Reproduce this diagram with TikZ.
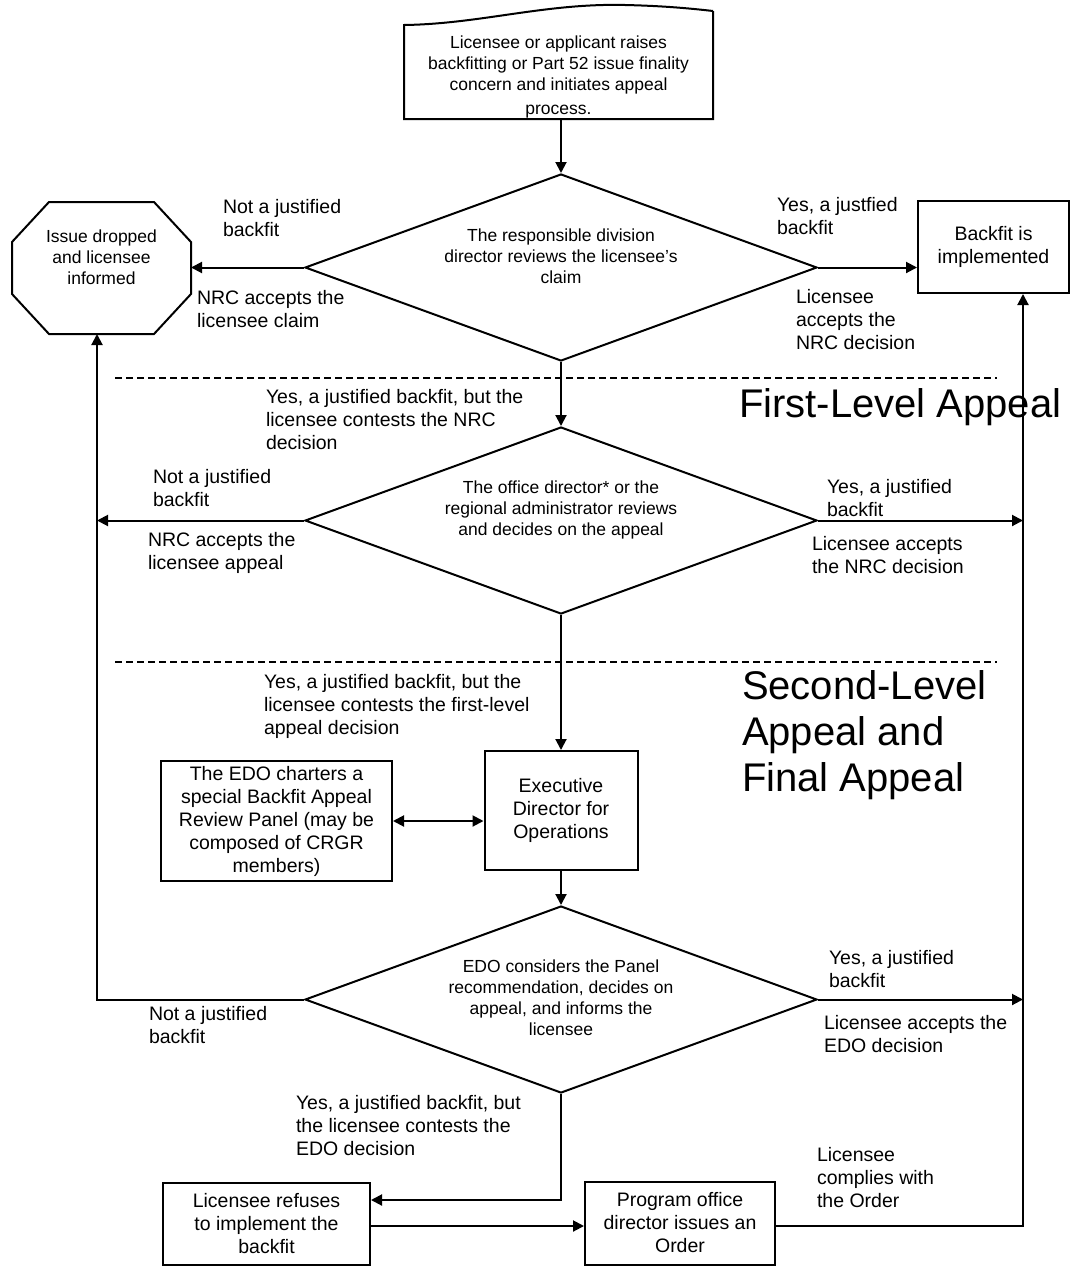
\documentclass[tikz,border=0pt]{standalone}
\usepackage{fontspec}
\setmainfont{Liberation Sans}
\usetikzlibrary{arrows.meta,shapes.geometric,calc}
\newcommand\fntlab{\fontsize{19.5}{23}\selectfont}
\newcommand\fntdia{\fontsize{17.5}{21}\selectfont}
\newcommand\fntbx{\fontsize{19.5}{23}\selectfont}
\newcommand\fntbig{\fontsize{40}{46}\selectfont}
\begin{document}
\begin{tikzpicture}[x=1pt,y=-1pt,
  line width=2pt,
  arr/.style={-{Triangle[length=11pt,width=11pt]}},
  dblarr/.style={{Triangle[length=11pt,width=11pt]}-{Triangle[length=11pt,width=11pt]}},
  dia/.style={shape=diamond,draw,aspect=2.7,minimum width=512pt,minimum height=187pt,inner sep=0pt},
  diatext/.style={inner sep=0pt,align=center,font=\fntdia},
  bx/.style={draw,rectangle,inner sep=0pt,align=center,font=\fntbx},
  lab/.style={anchor=west,inner sep=0pt,align=left,font=\fntlab},
  big/.style={anchor=west,inner sep=0pt,align=left,font=\fntbig},
  sep/.style={line width=1.3pt,dash pattern=on 7pt off 4pt}]
\useasboundingbox (0,0) rectangle (1070,1266);
\fill[white] (0,0) rectangle (1070,1266);

% start (document shape)
\node[inner sep=0pt,minimum width=307pt,minimum height=92pt] (start) at (558.5,72) {};
\node[diatext] (starttext) at (558.5,76.5)
  {Licensee or applicant raises\\backfitting or Part 52 issue finality\\concern and initiates appeal\\[3pt]process.};
\draw (start.north east) ++(0,-14) coordinate (sne)
      (sne) -- (start.south east) -- (start.south west) -- (start.north west)
      .. controls (480,24) and (545,3) .. (625,5)
      .. controls (668,6) and (695,9) .. (sne);

% diamonds
\node[dia] (d1) at (561,267.5) {};
\node[diatext] (d1text) at (561,256) {The responsible division\\director reviews the licensee's\\claim};
\node[dia] (d2) at (561,520.5) {};
\node[diatext] (d2text) at (561,510) {The office director* or  the\\regional administrator reviews\\and decides on the appeal};
\node[dia] (d3) at (561,999.5) {};
\node[diatext] (d3text) at (561,997.5) {EDO considers the Panel\\recommendation, decides on\\appeal, and informs the\\licensee};

% octagon
\node[inner sep=0pt,minimum width=177pt,minimum height=130pt] (oct) at (101.5,268) {};
\node[diatext] (octtext) at ($(oct.center)+(0,-11)$) {Issue dropped\\and licensee\\informed};
\draw ($(oct.north west)+(37,0)$) -- ($(oct.north east)+(-37,0)$) -- ($(oct.north east)+(0,40)$)
  -- ($(oct.south east)+(0,-40)$) -- ($(oct.south east)+(-37,0)$) -- ($(oct.south west)+(37,0)$)
  -- ($(oct.south west)+(0,-40)$) -- ($(oct.north west)+(0,40)$) -- cycle;

% boxes
\node[bx,minimum width=151pt,minimum height=92pt] (bf) at (993.5,247) {Backfit is\\implemented};
\node[bx,minimum width=153pt,minimum height=119pt] (edo) at (561,810.5) {Executive\\Director for\\Operations};
\node[bx,minimum width=231pt,minimum height=120pt] (panel) at (276.5,821) {The EDO charters a\\special Backfit Appeal\\Review Panel (may be\\composed of CRGR\\members)};
\node[bx,minimum width=207pt,minimum height=82pt] (refuse) at (266.5,1223.5) {Licensee refuses\\to implement the\\backfit};
\node[bx,minimum width=190pt,minimum height=83pt] (prog) at (680,1223) {Program office\\director issues an\\Order};

% helper coordinates
\coordinate (L) at (97,999.5);
\coordinate (R2) at (1023,520.5);
\coordinate (R3) at (1023,999.5);
\coordinate (Rb) at (1023,1226);
\coordinate (T) at (561,1200);

% connectors
\draw[arr] (start.south -| d1.north) -- (d1.north);
\draw[arr] (d1.west) -- (d1.west -| oct.east);
\draw[arr] (d1.east) -- (bf.west |- d1.east);
\draw[arr] (d1.south) -- (d2.north);
\draw[arr] (d2.west) -- (L |- d2.west);
\draw[arr] (d2.east) -- (R2);
\draw[arr] (d2.south) -- (edo.north);
\draw[dblarr] (panel.east) -- (panel.east -| edo.west);
\draw[arr] (edo.south) -- (d3.north);
\draw[arr] (d3.west) -- (L) -- (L |- oct.south);
\draw[arr] (d3.east) -- (R3);
\draw[arr] (d3.south) -- (T) -- (T -| refuse.east);
\draw[arr] (refuse.east |- Rb) -- (prog.west |- Rb);
\draw[arr] (prog.east |- Rb) -- (Rb) -- (Rb |- bf.south);

% separators
\draw[sep] (115,378) -- (997,378);
\draw[sep] (115,662) -- (997,662);

% labels
\node[lab] at (222,218.5) {Not a justified\\backfit};
\node[lab] at (196,309.5) {NRC accepts the\\licensee claim};
\node[lab] at (776,216.5) {Yes, a justfied\\backfit};
\node[lab] at (795,320) {Licensee\\accepts the\\NRC decision};
\node[lab] at (265,420) {Yes, a justified backfit, but the\\licensee contests the NRC\\decision};
\node[lab] at (152,488) {Not a justified\\backfit};
\node[lab] at (147,552.5) {NRC accepts the\\licensee appeal};
\node[lab] at (826,498) {Yes, a justified\\backfit};
\node[lab] at (811,555.5) {Licensee accepts\\the NRC decision};
\node[lab] at (263,706) {Yes, a justified backfit, but the\\licensee contests the first-level\\appeal decision};
\node[lab] at (148,1025.5) {Not a justified\\backfit};
\node[lab] at (828,969.5) {Yes, a justified\\backfit};
\node[lab] at (823,1034.5) {Licensee accepts the\\EDO decision};
\node[lab] at (295,1126) {Yes, a justified backfit, but\\the licensee contests the\\EDO decision};
\node[lab] at (816,1178) {Licensee\\complies with\\the Order};

\node[big] at (738,407) {First-Level Appeal};
\node[big] at (741,735) {Second-Level\\Appeal and\\Final Appeal};
\end{tikzpicture}
\end{document}
